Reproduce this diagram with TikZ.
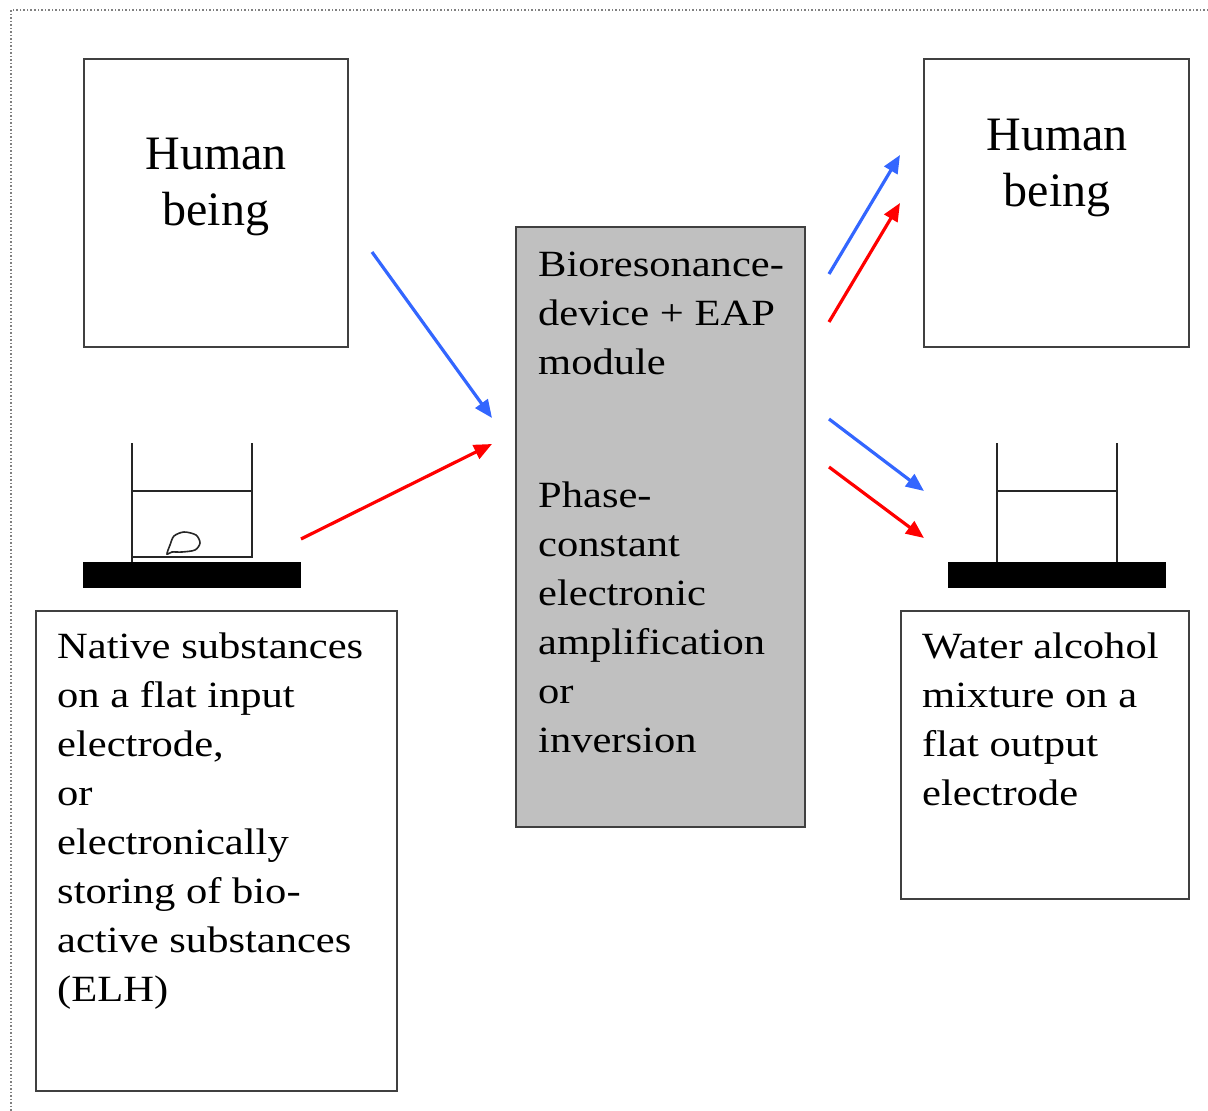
\documentclass[tikz,border=0pt]{standalone}
\usepackage{fontspec}
\setmainfont{Liberation Serif}
\newfontfamily\widefont[FakeStretch=1.15]{Liberation Serif}
\usetikzlibrary{arrows.meta}
\definecolor{arrblue}{RGB}{51,102,255}
\definecolor{arrred}{RGB}{255,0,0}
\definecolor{boxgray}{RGB}{192,192,192}
\definecolor{edge}{RGB}{64,64,64}
\tikzset{
  frame/.style={draw=edge, line width=2pt, inner sep=0pt},
  bigtxt/.style={inner sep=0pt, anchor=base},
  bodytxt/.style={inner sep=0pt, anchor=base west},
  flow/.style={line width=3.2pt, -{Triangle[length=18pt,width=15pt]}},
  beaker/.style={draw=black!85, line width=2pt},
  plate/.style={fill=black, draw=none},
}
\newcommand{\bodyblock}[1]{\parbox[t]{340pt}{\widefont\fontsize{37}{49}\selectfont\raggedright #1}}
\newcommand{\bigblock}[1]{\parbox[t]{250pt}{\fontsize{48}{56}\selectfont\centering #1}}
\begin{document}
\begin{tikzpicture}[x=1pt,y=-1pt]
\useasboundingbox (0,0) rectangle (1208,1111);
% dotted frame
\draw[gray, line width=1.5pt, dash pattern=on 1.5pt off 2pt] (1208,10) -- (11,10) -- (11,1111);

% boxes
\node[frame, minimum width=264pt, minimum height=288pt] (hl) at (216,203) {};
\node[frame, minimum width=265pt, minimum height=288pt] (hr) at (1056.5,203) {};
\node[frame, fill=boxgray, minimum width=289pt, minimum height=600pt] (dev) at (660.5,527) {};
\node[frame, minimum width=361pt, minimum height=480pt] (inbox) at (216.5,851) {};
\node[frame, minimum width=288pt, minimum height=288pt] (outbox) at (1045,755) {};

% texts
\node[bigtxt] (hlt) at (216,169) {\bigblock{Human\\being}};
\node[bigtxt] (hrt) at (1057,150) {\bigblock{Human\\being}};
\node[bodytxt] (devt1) at (538,276) {\bodyblock{Bioresonance-\\device + EAP\\module}};
\node[bodytxt] (devt2) at (538,507) {\bodyblock{Phase-\\constant\\electronic\\amplification\\or\\inversion}};
\node[bodytxt] (int) at (57,658) {\bodyblock{Native substances\\on a flat input\\electrode,\\or\\electronically\\storing of bio-\\active substances\\(ELH)}};
\node[bodytxt] (outt) at (922,658) {\bodyblock{Water alcohol\\mixture on a\\flat output\\electrode}};

% left beaker
\fill[plate] (83,562) rectangle (301,588);
\draw[beaker] (132,443) -- (132,562);
\draw[beaker] (252,443) -- (252,557) -- (132,557);
\draw[beaker] (132,491) -- (252,491);
\draw[black!85, line width=1.6pt] plot[smooth cycle] coordinates {(167,554) (170,545) (174,536) (184,532) (196,535) (200,543) (195,550) (182,552) (172,552)};

% right beaker
\fill[plate] (948,562) rectangle (1166,588);
\draw[beaker] (997,443) -- (997,562);
\draw[beaker] (1117,443) -- (1117,562);
\draw[beaker] (997,491) -- (1117,491);

% arrow endpoints
\coordinate (b1s) at (372,252); \coordinate (b1e) at (492,418);
\coordinate (r1s) at (301,539); \coordinate (r1e) at (492,444);
\coordinate (b2s) at (829,274); \coordinate (b2e) at (900,155);
\coordinate (r2s) at (829,322); \coordinate (r2e) at (900,203);
\coordinate (b3s) at (829,419); \coordinate (b3e) at (924,491);
\coordinate (r3s) at (829,467); \coordinate (r3e) at (924,538);

\draw[flow, arrblue] (b1s) -- (b1e);
\draw[flow, arrred] (r1s) -- (r1e);
\draw[flow, arrblue] (b2s) -- (b2e);
\draw[flow, arrred] (r2s) -- (r2e);
\draw[flow, arrblue] (b3s) -- (b3e);
\draw[flow, arrred] (r3s) -- (r3e);
\end{tikzpicture}
\end{document}
